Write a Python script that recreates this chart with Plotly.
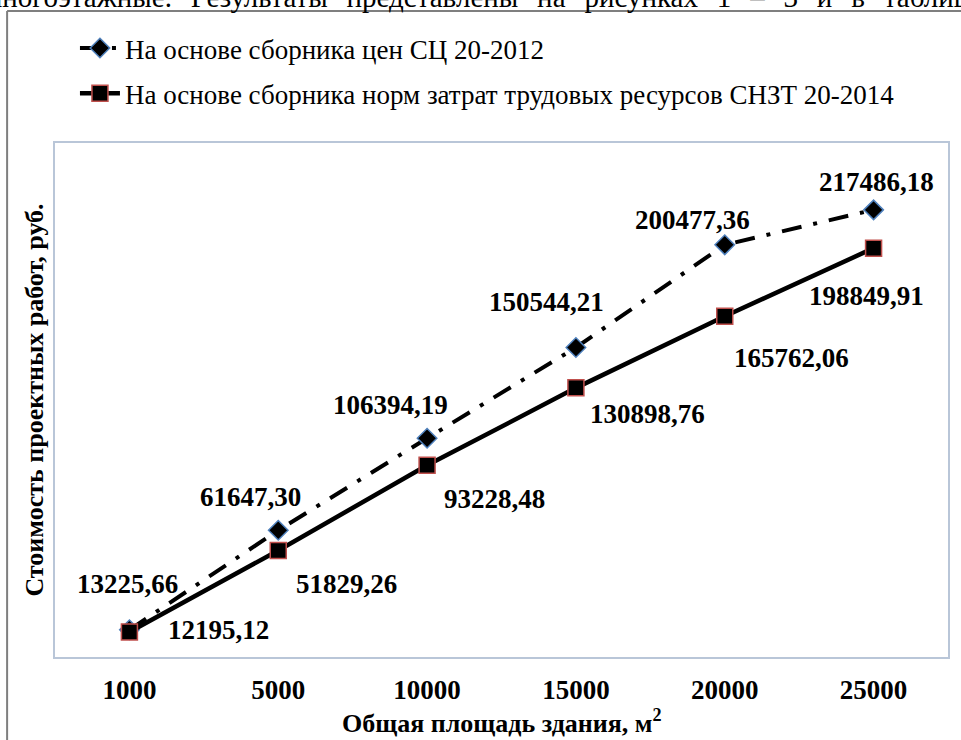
import plotly.graph_objects as go

# ---- data ----
areas = ["1000", "5000", "10000", "15000", "20000", "25000"]
sc_2012 = [13225.66, 61647.30, 106394.19, 150544.21, 200477.36, 217486.18]
snzt_2014 = [12195.12, 51829.26, 93228.48, 130898.76, 165762.06, 198849.91]
name_sc = "На основе сборника цен СЦ 20-2012"
name_snzt = "На основе сборника норм затрат трудовых ресурсов СНЗТ 20-2014"
x_title = "Общая площадь здания, м<sup>2</sup>"
y_title = "Стоимость проектных работ, руб."
top_text = "многоэтажные. Результаты представлены на рисунках 1 – 3 и в таблице 1."

# label offsets (pixels) - styling
off_sc = [(-2, 46), (-28, 33), (-37, 33), (-29, 45), (-32, 25), (3, 28)]
off_snzt = [(89, 2), (68, -34), (67, -34), (72, -26), (67, -42), (-7, -48)]

FONT = "Liberation Serif"
W, H = 961, 740
L, R, T, B = 55, 11, 143, 83
PW, PH = W - L - R, H - T - B


def px_x(p):
    return (p - L) / PW


def px_y(p):
    return (H - B - p) / PH


fig = go.Figure()
fig.add_trace(go.Scatter(
    x=areas, y=sc_2012, name=name_sc, mode="lines+markers",
    legendgroup="a",
    line=dict(color="black", width=4, dash="20px,12px,4px,12px"),
    marker=dict(symbol="diamond", size=15, color="black",
                line=dict(color="#4f81bd", width=1.5)),
))
fig.add_trace(go.Scatter(
    x=areas, y=snzt_2014, name=name_snzt, mode="lines+markers",
    legendgroup="b",
    line=dict(color="black", width=4.5),
    marker=dict(symbol="square", size=16, color="black",
                line=dict(color="#c0504d", width=1.5)),
))


def fmt(v):
    return f"{v:.2f}".replace(".", ",")


annots = []
for series, offs in ((sc_2012, off_sc), (snzt_2014, off_snzt)):
    for i, (yv, (dx, dy)) in enumerate(zip(series, offs)):
        annots.append(dict(
            x=i, y=yv, xref="x", yref="y", text=fmt(yv), showarrow=False,
            xshift=dx, yshift=dy,
            font=dict(family=FONT, size=27, color="black", weight="bold"),
        ))

# justified page text above the chart (wider word spacing)
justified = top_text.replace(" ", " \u2009\u2009")
annots.append(dict(
    x=px_x(-18), y=px_y(-3), xref="paper", yref="paper", text=justified,
    showarrow=False, xanchor="left", yanchor="middle",
    font=dict(family=FONT, size=29, color="black"),
))

# x-axis title
annots.append(dict(
    x=0.5, y=px_y(721), xref="paper", yref="paper", text=x_title,
    showarrow=False, xanchor="center", yanchor="middle",
    font=dict(family=FONT, size=26, color="black", weight="bold"),
))

shapes = [
    dict(type="line", xref="paper", yref="paper",
         x0=px_x(7), x1=px_x(970), y0=px_y(11), y1=px_y(11),
         line=dict(color="#7f7f7f", width=2)),
    dict(type="line", xref="paper", yref="paper",
         x0=px_x(7), x1=px_x(7), y0=px_y(11), y1=px_y(745),
         line=dict(color="#7f7f7f", width=2)),
]

fig.update_layout(
    width=W, height=H,
    margin=dict(l=L, r=R, t=T, b=B),
    paper_bgcolor="white", plot_bgcolor="white",
    font=dict(family=FONT, color="black"),
    showlegend=True,
    legend=dict(
        x=px_x(75), y=px_y(24), xanchor="left", yanchor="top",
        font=dict(family=FONT, size=27, color="black"),
        itemwidth=40,
        tracegroupgap=7, bgcolor="rgba(0,0,0,0)", traceorder="grouped",
    ),
    annotations=annots,
    shapes=shapes,
    xaxis=dict(
        type="category", range=[-0.5, 5.5],
        showline=True, mirror=True, linecolor="#b9c6d8", linewidth=1.5,
        showgrid=False, zeroline=False, ticks="",
        tickfont=dict(family=FONT, size=27, color="black", weight="bold"),
        ticklabelstandoff=8,
    ),
    yaxis=dict(
        range=[0, 250000],
        showline=True, mirror=True, linecolor="#b9c6d8", linewidth=1.5,
        showgrid=False, zeroline=False, showticklabels=False, ticks="",
        title=dict(text=y_title, standoff=2,
                   font=dict(family=FONT, size=26, color="black", weight="bold")),
    ),
)

fig.write_html("out.html", config={"displayModeBar": False},
               post_script="document.body.style.margin='0px';")
